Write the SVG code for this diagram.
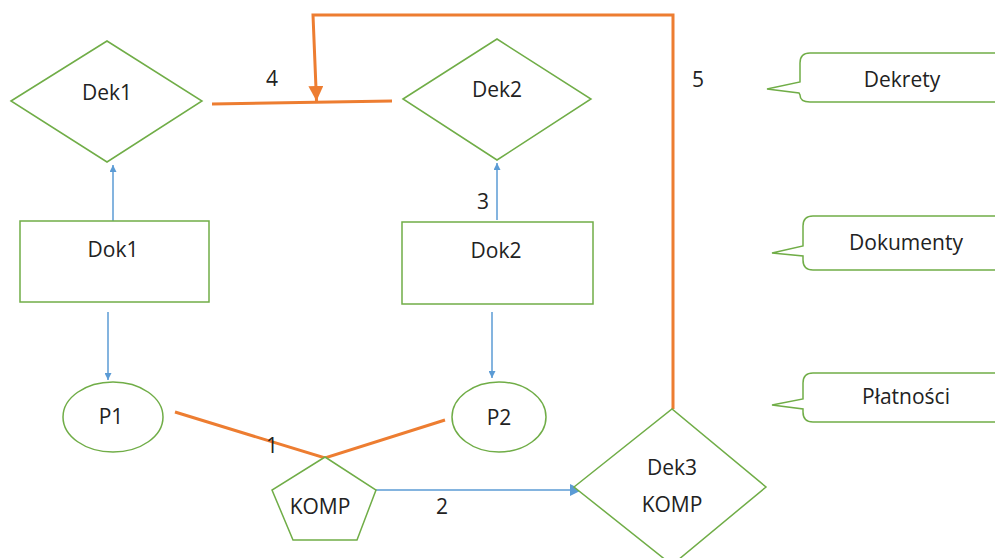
<svg xmlns="http://www.w3.org/2000/svg" width="995" height="558" viewBox="0 0 995 558">
<defs>
<style>
.n{fill:#fff;stroke:#70AD47;stroke-width:1.5}
.t{font-family:"Open Sans","Liberation Sans",sans-serif;font-size:21px;fill:#222;text-anchor:middle}
.o{stroke:#ED7D31;stroke-width:3;fill:none}
.b{stroke:#5B9BD5;stroke-width:1.5;fill:none}
</style>
<marker id="ab" viewBox="0 0 10 10" refX="10" refY="5" markerWidth="7" markerHeight="7" markerUnits="userSpaceOnUse" orient="auto"><path d="M0,0 L10,5 L0,10 Z" fill="#5B9BD5"/></marker>
<marker id="ab2" viewBox="0 0 10 10" refX="10" refY="5" markerWidth="12" markerHeight="12" markerUnits="userSpaceOnUse" orient="auto"><path d="M0,0 L10,5 L0,10 Z" fill="#5B9BD5"/></marker>
<marker id="ao" viewBox="0 0 10 10" refX="10" refY="5" markerWidth="5" markerHeight="5" orient="auto"><path d="M0,0 L10,5 L0,10 Z" fill="#ED7D31"/></marker>
</defs>
<rect width="995" height="558" fill="#fff"/>
<g id="connectors">
<path class="o" d="M212,104 L392,101"/>
<path class="o" d="M673,409 L673,15 L313,15 L316.5,101" marker-end="url(#ao)"/>
<path class="o" d="M175,412 L325,458 L445,420"/>
<path class="b" d="M376,490 L582,490" marker-end="url(#ab2)"/>
<path class="b" d="M113,221 L113,165" marker-end="url(#ab)"/>
<path class="b" d="M497,220 L497,163" marker-end="url(#ab)"/>
<path class="b" d="M108,312 L108,380" marker-end="url(#ab)"/>
<path class="b" d="M492,312 L492,378" marker-end="url(#ab)"/>
<text class="t" x="272" y="86">4</text>
<text class="t" x="698" y="87">5</text>
<text class="t" x="483" y="209">3</text>
<text class="t" x="272" y="453">1</text>
<text class="t" x="442" y="514">2</text>
</g>
<g id="dek1"><path class="n" d="M11,101 L107,41 L202,101 L107,162 Z"/><text class="t" x="107" y="100">Dek1</text></g>
<g id="dek2"><path class="n" d="M403,99 L497,39 L591,99 L497,160 Z"/><text class="t" x="497" y="97">Dek2</text></g>
<g id="dok1"><rect class="n" x="20" y="221" width="189" height="81"/><text class="t" x="113" y="257">Dok1</text></g>
<g id="dok2"><rect class="n" x="402" y="222" width="191" height="82"/><text class="t" x="496" y="258">Dok2</text></g>
<g id="p1"><ellipse class="n" cx="113" cy="417" rx="50" ry="35"/><text class="t" x="111" y="424">P1</text></g>
<g id="p2"><ellipse class="n" cx="499" cy="417" rx="47" ry="35"/><text class="t" x="499" y="425">P2</text></g>
<g id="komp"><path class="n" d="M325,457 L376,490 L357,540 L293,540 L272,490 Z"/><text class="t" x="320" y="514">KOMP</text></g>
<g id="dek3"><path class="n" d="M574,487 L672,409 L766,487 L672,565 Z"/><text class="t" x="672" y="475">Dek3</text><text class="t" x="672" y="512">KOMP</text></g>
<g id="c-dekrety"><path class="n" d="M800,63 Q800,53 810,53 L1010,53 L1010,102 L810,102 Q800,102 800,95 L799,93 L767,89 L800,82 Z"/><text class="t" x="902" y="87">Dekrety</text></g>
<g id="c-dokumenty"><path class="n" d="M803,226 Q803,216 813,216 L1010,216 L1010,270 L813,270 Q803,270 803,260 L803,256 L772,253 L803,246 Z"/><text class="t" x="906" y="250">Dokumenty</text></g>
<g id="c-platnosci"><path class="n" d="M803,383 Q803,373 813,373 L1010,373 L1010,422 L813,422 Q803,422 803,412 L803,409 L772,405 L803,399 Z"/><text class="t" x="906" y="404">Płatności</text></g>
</svg>
